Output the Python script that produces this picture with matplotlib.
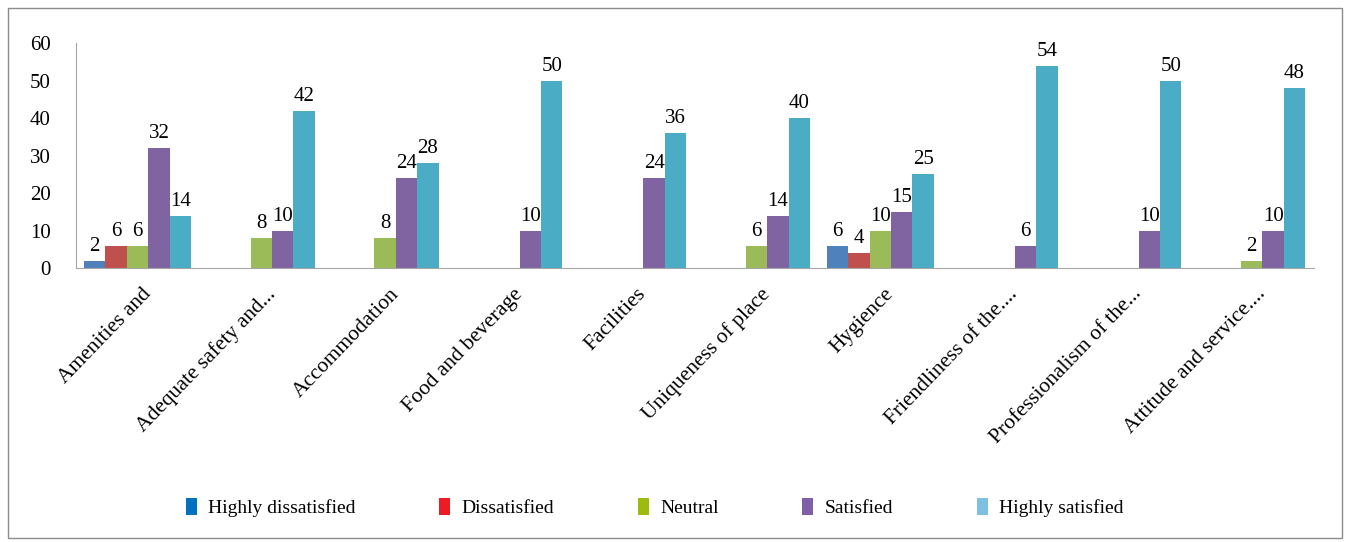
import numpy as np
import matplotlib.pyplot as plt
from matplotlib.patches import Rectangle, Patch
from matplotlib.transforms import ScaledTranslation

categories = ['Amenities and', 'Adequate safety and...', 'Accommodation', 'Food and beverage',
              'Facilities', 'Uniqueness of place', 'Hygience', 'Friendliness of the....',
              'Professionalism of the...', 'Attitude and service....']
series_names = ['Highly dissatisfied', 'Dissatisfied', 'Neutral', 'Satisfied', 'Highly satisfied']
highly_dissatisfied = [2, 0, 0, 0, 0, 0, 6, 0, 0, 0]
dissatisfied = [6, 0, 0, 0, 0, 0, 4, 0, 0, 0]
neutral = [6, 8, 8, 0, 0, 6, 10, 0, 0, 2]
satisfied = [32, 10, 24, 10, 24, 14, 15, 6, 10, 10]
highly_satisfied = [14, 42, 28, 50, 36, 40, 25, 54, 50, 48]

bar_colors = ['#4F81BD', '#C0504D', '#9BBB59', '#8064A2', '#4BACC6']
legend_colors = ['#0070C0', '#ED1C24', '#9BBB0F', '#7F5FA8', '#7EC0E0']

plt.rcParams['font.family'] = ['Liberation Serif', 'DejaVu Serif']

fig = plt.figure(figsize=(13.5, 5.42), dpi=100)
ax = fig.add_axes([0.056, 0.5055, 0.917, 0.415])

x = np.arange(len(categories))
w = 0.173
all_series = [highly_dissatisfied, dissatisfied, neutral, satisfied, highly_satisfied]
for i, vals in enumerate(all_series):
    pos = x + (i - 2) * w
    ax.bar(pos, vals, width=w, color=bar_colors[i])
    for p, v in zip(pos, vals):
        if v > 0:
            ax.text(p, v + 1.3, str(v), ha='center', va='bottom', fontsize=15, clip_on=False)

ax.set_xlim(-0.5, len(categories) - 0.5)
ax.set_ylim(0, 60)
ax.set_yticks(range(0, 61, 10))
ax.tick_params(axis='y', length=0, pad=18, labelsize=15)
ax.tick_params(axis='x', length=0, pad=12)
ax.set_xticks(x)
ax.set_xticklabels(categories, rotation=46, ha='right', rotation_mode='anchor', fontsize=15.5)
offset = ScaledTranslation(4 / 100, 0, fig.dpi_scale_trans)
for lbl in ax.get_xticklabels():
    lbl.set_transform(lbl.get_transform() + offset)

for s in ['top', 'right']:
    ax.spines[s].set_visible(False)
ax.spines['left'].set_color('#A6A6A6')
ax.spines['bottom'].set_color('#A6A6A6')

handles = [Patch(facecolor=c) for c in legend_colors]
fig.legend(handles, series_names, loc='center', bbox_to_anchor=(0.485, 0.063), ncol=5,
           frameon=False, fontsize=14, handlelength=0.55, handleheight=0.9,
           handletextpad=0.6, columnspacing=4.3)

fig.add_artist(Rectangle((0.006, 0.007), 0.988, 0.978, transform=fig.transFigure,
                         fill=False, edgecolor='#8C8C8C', linewidth=1))

fig.savefig('out.png', dpi=100)
